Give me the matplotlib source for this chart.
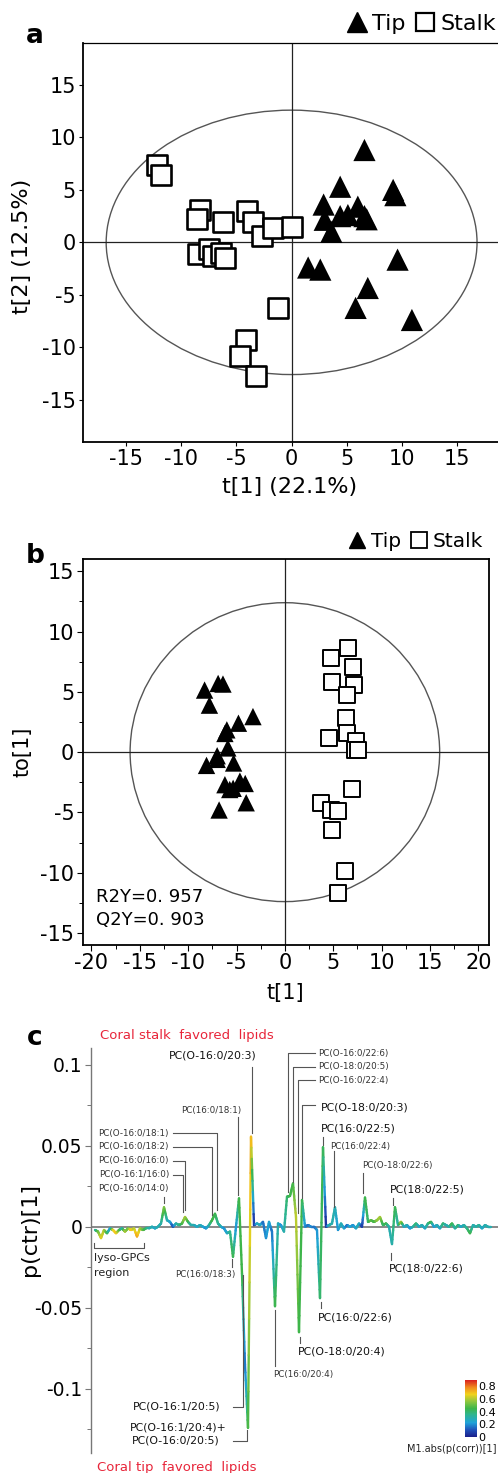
import matplotlib
matplotlib.use('Agg')
import matplotlib.pyplot as plt
import numpy as np
from matplotlib.patches import Ellipse
from matplotlib.collections import LineCollection
from matplotlib.lines import Line2D
import matplotlib.transforms as mtransforms
import matplotlib.cm as cm
import matplotlib.colors as mcolors

plt.rcParams['font.family'] = ['DejaVu Sans']
plt.rcParams['axes.unicode_minus'] = False

# ---------------- data ----------------
# Panel a: PCA scores
stalk_a_t1 = [-12.2, -11.8, -8.3, -8.6, -6.25, -4.0, -3.5, -2.7, -1.7, 0.0,
              -8.5, -7.5, -7.1, -6.4, -6.0, -1.2, -4.15, -4.7, -3.2]
stalk_a_t2 = [7.4, 6.45, 3.1, 2.2, 1.9, 2.95, 1.9, 0.6, 1.35, 1.5,
              -1.1, -0.6, -1.3, -1.0, -1.5, -6.25, -9.3, -10.8, -12.7]
tip_a_t1 = [6.6, 4.4, 9.2, 9.4, 2.9, 6.0, 3.0, 4.4, 5.1, 6.6, 6.8, 3.6,
            1.5, 2.6, 9.6, 6.9, 5.8, 10.9]
tip_a_t2 = [8.8, 5.3, 5.0, 4.5, 3.6, 3.4, 2.15, 2.5, 2.6, 2.5, 2.2, 1.0,
            -2.4, -2.6, -1.65, -4.35, -6.25, -7.4]

# Panel b: OPLS-DA scores
tip_b_t1 = [-8.3, -6.9, -6.4, -7.8, -3.3, -4.8, -6.0, -6.2, -5.9, -7.0,
            -8.1, -7.0, -5.3, -6.2, -4.65, -4.1, -5.7, -5.35, -4.0, -6.8]
tip_b_to1 = [5.15, 5.7, 5.65, 3.9, 2.95, 2.4, 1.85, 1.55, 0.35, -0.3,
             -1.1, -0.6, -0.9, -2.7, -2.4, -2.6, -3.1, -3.0, -4.2, -4.8]
stalk_b_t1 = [6.55, 4.8, 7.0, 4.9, 7.1, 6.4, 6.3, 6.4, 4.6, 7.4, 7.2, 7.6,
              6.9, 3.7, 4.8, 5.5, 4.9, 6.2, 5.5]
stalk_b_to1 = [8.65, 7.85, 7.1, 5.85, 5.55, 4.75, 2.8, 1.6, 1.2, 0.95, 0.2, 0.15,
               -3.05, -4.2, -4.8, -4.9, -6.5, -9.9, -11.7]
r2y = "0. 957"
q2y = "0. 903"

# Panel c: loading p(ctr)[1] per variable, and abs(p(corr))[1]
p_ctr = [
    -0.002, -0.003, -0.007, -0.002, -0.004, -0.001, -0.002, -0.004, -0.002, -0.001,
    -0.003, -0.001, -0.002, -0.001, -0.006, -0.001, -0.002, -0.001, -0.001, 0.000,
    -0.001, 0.000, 0.002, 0.012, 0.004, 0.003, 0.000, 0.002, 0.001, 0.002,
    0.006, 0.003, 0.001, 0.001, 0.000, 0.001, 0.000, -0.001, 0.001, 0.004,
    0.008, 0.002, 0.000, -0.001, -0.004, -0.003, -0.0185, 0.000, 0.0175, -0.029,
    -0.085, -0.124, 0.0555, 0.001, 0.002, 0.001, 0.003, -0.007, 0.003, -0.003,
    -0.049, 0.002, 0.001, -0.003, 0.0185, 0.019, 0.0267, 0.006, -0.065, 0.0165,
    0.000, 0.001, 0.000, 0.000, -0.002, -0.044, 0.049, 0.000, 0.001, 0.002,
    0.012, -0.002, 0.002, -0.001, 0.001, 0.000, 0.001, -0.001, 0.002, 0.000,
    0.018, 0.003, 0.004, 0.003, 0.004, 0.006, 0.001, 0.002, 0.000, -0.0107,
    0.012, 0.001, 0.003, 0.000, 0.001, -0.001, 0.000, 0.002, 0.000, 0.001,
    -0.001, 0.002, 0.003, 0.000, 0.001, -0.001, 0.002, 0.001, 0.000, 0.002,
    -0.001, 0.001, 0.000, 0.001, -0.001, -0.004, 0.001, 0.000, 0.001, -0.001,
    0.001, 0.000, 0.000]
p_corr = [
    0.3, 0.5, 0.65, 0.6, 0.45, 0.2, 0.65, 0.7, 0.5, 0.3,
    0.6, 0.5, 0.7, 0.6, 0.75, 0.6, 0.5, 0.4, 0.3, 0.3,
    0.25, 0.3, 0.3, 0.55, 0.3, 0.25, 0.1, 0.3, 0.35, 0.45,
    0.6, 0.45, 0.3, 0.3, 0.25, 0.3, 0.25, 0.2, 0.3, 0.45,
    0.45, 0.35, 0.3, 0.2, 0.25, 0.35, 0.45, 0.2, 0.45, 0.45,
    0.15, 0.45, 0.75, 0.03, 0.25, 0.3, 0.15, 0.2, 0.25, 0.15,
    0.45, 0.3, 0.2, 0.3, 0.4, 0.45, 0.45, 0.62, 0.45, 0.45,
    0.2, 0.15, 0.2, 0.15, 0.2, 0.4, 0.45, 0.03, 0.3, 0.3,
    0.3, 0.2, 0.3, 0.25, 0.15, 0.25, 0.2, 0.25, 0.3, 0.05,
    0.45, 0.4, 0.5, 0.45, 0.55, 0.6, 0.4, 0.45, 0.3, 0.3,
    0.45, 0.3, 0.6, 0.25, 0.3, 0.2, 0.3, 0.4, 0.25, 0.3,
    0.25, 0.35, 0.45, 0.2, 0.3, 0.25, 0.4, 0.3, 0.3, 0.45,
    0.3, 0.4, 0.25, 0.3, 0.35, 0.45, 0.3, 0.3, 0.35, 0.25,
    0.3, 0.3, 0.3]

c_yticks = [0.1, 0.05, 0, -0.05, -0.1]
c_yticklabels = ["0.1", "0.05", "0", "-0.05", "-0.1"]
cbar_ticks = [0, 0.2, 0.4, 0.6, 0.8]
cbar_ticklabels = ["0", "0.2", "0.4", "0.6", "0.8"]

# SIMCA-like colour scale
simca = mcolors.LinearSegmentedColormap.from_list('simca', [
    (0.00, '#1b1f8a'), (0.12, '#1f4fb8'), (0.25, '#1fa3d9'),
    (0.40, '#2fb58c'), (0.50, '#3db54a'), (0.62, '#8cc63f'),
    (0.75, '#f2d21b'), (0.87, '#f08a1e'), (1.00, '#d9201f')])

# ---------------- figure ----------------
W, H = 498, 1473
fig = plt.figure(figsize=(W / 100, H / 100), dpi=100)
PX = mtransforms.Affine2D().scale(1 / W, -1 / H).translate(0, 1) + fig.transFigure


def axes_px(l, t, r, b):
    return fig.add_axes([l / W, 1 - b / H, (r - l) / W, (b - t) / H])


def ftext(x, y, s, **kw):
    return fig.text(x, y, s, transform=PX, **kw)


def fline(pts, **kw):
    xs, ys = zip(*pts)
    ln = Line2D(xs, ys, transform=PX, **kw)
    fig.add_artist(ln)


TICK = 15
SPW = 1.3

# ---------------- panel a ----------------
axa = axes_px(83, 43, 498, 441.7)
axa.set_xlim(-18.9, 18.7)
axa.set_ylim(-19.0, 19.0)
axa.add_patch(Ellipse((0, 0), 2 * 16.8, 2 * 12.6, fill=False, ec='#555555', lw=1.0))
axa.axhline(0, color='#222222', lw=0.9, zorder=1)
axa.axvline(0, color='#222222', lw=0.9, zorder=1)
axa.scatter(stalk_a_t1, stalk_a_t2, marker='s', s=14.5 ** 2, facecolors='white',
            edgecolors='black', linewidths=1.9, zorder=3)
axa.scatter(tip_a_t1, tip_a_t2, marker='^', s=16 ** 2, c='black', edgecolors='none', zorder=4)
axa.set_xticks([-15, -10, -5, 0, 5, 10, 15])
axa.set_yticks([-15, -10, -5, 0, 5, 10, 15])
axa.tick_params(labelsize=TICK, direction='out', length=3, width=0.8, pad=2)
axa.spines['right'].set_visible(False)
for s in ['left', 'bottom']:
    axa.spines[s].set_linewidth(SPW)
axa.spines['top'].set_linewidth(0.9)
ftext(290, 487, "t[1] (22.1%)", fontsize=16, ha='center', va='center')
ftext(22, 246, "t[2] (12.5%)", fontsize=16, ha='center', va='center', rotation=90)
ftext(35, 43, "a", fontsize=19, fontweight='bold', ha='center', va='baseline')

h_tip = Line2D([], [], marker='^', ls='none', color='black', markersize=14)
h_stalk = Line2D([], [], marker='s', ls='none', mfc='white', mec='black', markersize=13, mew=1.6)
fig.legend([h_tip, h_stalk], ["Tip", "Stalk"], loc='center right',
           bbox_to_anchor=(496 / W, 1 - 24 / H), ncol=2, frameon=False,
           fontsize=16, handlelength=0.9, handletextpad=0.25, columnspacing=0.4,
           borderpad=0, borderaxespad=0)

# ---------------- panel b ----------------
axb = axes_px(82.7, 559.3, 489, 945)
axb.set_xlim(-20.9, 21.1)
axb.set_ylim(-16.0, 16.0)
axb.add_patch(Ellipse((0, 0), 2 * 16.0, 2 * 12.4, fill=False, ec='#555555', lw=1.0))
axb.axhline(0, color='#222222', lw=0.9, zorder=1)
axb.axvline(0, color='#222222', lw=0.9, zorder=1)
axb.scatter(stalk_b_t1, stalk_b_to1, marker='s', s=11 ** 2, facecolors='white',
            edgecolors='black', linewidths=1.4, zorder=3)
axb.scatter(tip_b_t1, tip_b_to1, marker='^', s=12.5 ** 2, c='black', edgecolors='none', zorder=4)
axb.set_xticks(np.arange(-20, 21, 5))
axb.set_yticks(np.arange(-15, 16, 5))
axb.set_xticks(np.arange(-17.5, 21, 5), minor=True)
axb.set_yticks(np.arange(-12.5, 16, 5), minor=True)
axb.tick_params(labelsize=TICK, direction='out', length=4, width=0.8, pad=2)
axb.tick_params(which='minor', direction='out', length=3, width=0.7)
for s in axb.spines.values():
    s.set_linewidth(SPW)
axb.text(-19.5, -12.0, "R2Y=" + r2y, fontsize=13, ha='left', va='center')
axb.text(-19.5, -13.9, "Q2Y=" + q2y, fontsize=13, ha='left', va='center')
ftext(285, 993, "t[1]", fontsize=15, ha='center', va='center')
ftext(22, 752, "to[1]", fontsize=15, ha='center', va='center', rotation=90)
ftext(35, 563, "b", fontsize=19, fontweight='bold', ha='center', va='baseline')

h_tip2 = Line2D([], [], marker='^', ls='none', color='black', markersize=12)
h_stalk2 = Line2D([], [], marker='s', ls='none', mfc='white', mec='black', markersize=11, mew=1.3)
fig.legend([h_tip2, h_stalk2], ["Tip", "Stalk"], loc='center right',
           bbox_to_anchor=(483 / W, 1 - 542 / H), ncol=2, frameon=False,
           fontsize=14.5, handlelength=0.9, handletextpad=0.25, columnspacing=0.4,
           borderpad=0, borderaxespad=0)

# ---------------- panel c ----------------
axc = axes_px(90.7, 1048, 498, 1453)
idx = np.arange(len(p_ctr))
axc.set_xlim((90.7 - 95) / 3, (498 - 95) / 3)
axc.set_ylim(-0.1395, 0.1102)
axc.axhline(0, color='#808080', lw=1.3, zorder=1)

# colour gradient along the loading line (each segment split into sub-pieces)
pts = np.column_stack([idx, np.array(p_ctr)])
corr = np.array(p_corr)
NSUB = 8
segs, cols = [], []
for i in range(len(pts) - 1):
    for k in range(NSUB):
        f0, f1 = k / NSUB, (k + 1) / NSUB
        segs.append([pts[i] + (pts[i + 1] - pts[i]) * f0, pts[i] + (pts[i + 1] - pts[i]) * f1])
        fm = (f0 + f1) / 2
        cols.append(corr[i] + (corr[i + 1] - corr[i]) * fm)
norm = mcolors.Normalize(0, 0.9)
lc = LineCollection(segs, cmap=simca, norm=norm, linewidths=1.7, capstyle='round', zorder=3)
lc.set_array(np.array(cols))
axc.add_collection(lc)

for s in ['top', 'right', 'bottom']:
    axc.spines[s].set_visible(False)
axc.spines['left'].set_color('#777777')
axc.spines['left'].set_linewidth(1.0)
axc.set_xticks([])
axc.set_yticks(c_yticks)
axc.set_yticklabels(c_yticklabels)
axc.set_yticks([0.075, 0.025, -0.025, -0.075, -0.125], minor=True)
axc.tick_params(axis='y', labelsize=13.5, direction='out', length=4, width=0.8,
                color='#777777', pad=2)
axc.tick_params(axis='y', which='minor', direction='out', length=3, width=0.7, color='#777777')
ftext(30, 1230, "p(ctr)[1]", fontsize=16, ha='center', va='center', rotation=90)
ftext(35, 1045, "c", fontsize=19, fontweight='bold', ha='center', va='baseline')

red = '#e8253a'
ftext(186.7, 1036, "Coral stalk  favored  lipids", fontsize=9.5, color=red, ha='center', va='center')
ftext(176.7, 1467, "Coral tip  favored  lipids", fontsize=9.5, color=red, ha='center', va='center')

BIG, SMALL = 7.8, 6.3
labels = [
    ("PC(O-16:0/20:3)", 213, 1055, 'center', BIG),
    ("PC(16:0/18:1)", 211, 1110.7, 'center', SMALL),
    ("PC(O-16:0/18:1)", 169, 1133.3, 'right', SMALL),
    ("PC(O-16:0/18:2)", 169, 1146.7, 'right', SMALL),
    ("PC(O-16:0/16:0)", 169, 1161, 'right', SMALL),
    ("PC(O-16:1/16:0)", 169, 1175, 'right', SMALL),
    ("PC(O-16:0/14:0)", 169, 1188.3, 'right', SMALL),
    ("PC(O-16:0/22:6)", 318.3, 1053.3, 'left', SMALL),
    ("PC(O-18:0/20:5)", 318.3, 1066.7, 'left', SMALL),
    ("PC(O-16:0/22:4)", 318.3, 1080, 'left', SMALL),
    ("PC(O-18:0/20:3)", 320.7, 1107.3, 'left', BIG),
    ("PC(16:0/22:5)", 320.7, 1128.3, 'left', BIG),
    ("PC(16:0/22:4)", 330, 1146.7, 'left', SMALL),
    ("PC(O-18:0/22:6)", 397, 1165.7, 'center', SMALL),
    ("PC(18:0/22:5)", 427.3, 1190, 'center', BIG),
    ("PC(18:0/22:6)", 389.3, 1268.3, 'left', BIG),
    ("PC(16:0/18:3)", 205.3, 1275, 'center', SMALL),
    ("PC(16:0/22:6)", 318.3, 1317.3, 'left', BIG),
    ("PC(O-18:0/20:4)", 297.7, 1351.7, 'left', BIG),
    ("PC(16:0/20:4)", 303, 1375, 'center', SMALL),
    ("PC(O-16:1/20:5)", 220, 1406.7, 'right', BIG),
    ("PC(O-16:1/20:4)+", 226.7, 1427.3, 'right', BIG),
    ("PC(O-16:0/20:5)", 220, 1440.7, 'right', BIG),
]
for s, x, y, ha, fs in labels:
    ftext(x, y, s, fontsize=fs, ha=ha, va='center',
          color='#111111' if fs == BIG else '#333333')

leaders = [
    [(251.7, 1066.7), (251.7, 1133)],
    [(237.7, 1116.7), (237.7, 1195)],
    [(173.3, 1133.3), (216.7, 1133.3), (216.7, 1210)],
    [(173.3, 1146.7), (211.7, 1146.7), (211.7, 1215)],
    [(173.3, 1161), (185, 1161), (185, 1210)],
    [(173.3, 1175), (182.7, 1175), (182.7, 1211.7)],
    [(164.3, 1196.7), (164.3, 1203.3)],
    [(315, 1053.3), (288.3, 1053.3), (288.3, 1191.7)],
    [(315, 1066.7), (293.3, 1066.7), (293.3, 1181.7)],
    [(315, 1080), (297.7, 1080), (297.7, 1213.3)],
    [(315, 1105), (302.3, 1105), (302.3, 1198.3)],
    [(323.3, 1137.3), (323.3, 1145)],
    [(334.3, 1150.7), (334.3, 1206.7)],
    [(363.3, 1173.3), (363.3, 1193.3)],
    [(393.3, 1198.3), (393.3, 1205)],
    [(391, 1253.3), (391, 1260)],
    [(232.3, 1259.3), (232.3, 1266.7)],
    [(320.7, 1301.7), (320.7, 1308.3)],
    [(300, 1336.7), (300, 1343.3)],
    [(275, 1310), (275, 1366)],
    [(232.7, 1406.7), (243.3, 1406.7), (243.3, 1275)],
    [(232.7, 1440.7), (247.3, 1440.7), (247.3, 1430)],
    [(94.3, 1242.7), (94.3, 1248.3), (144.3, 1248.3), (144.3, 1242.7)],
]
for pts_ in leaders:
    fline(pts_, color='#555555', lw=0.8)

ftext(94, 1258.3, "lyso-GPCs", fontsize=8, ha='left', va='center', color='#222222')
ftext(94, 1273.3, "region", fontsize=8, ha='left', va='center', color='#222222')

# colorbar
cax = axes_px(465, 1380, 477, 1437)
sm = cm.ScalarMappable(norm=norm, cmap=simca)
cb = fig.colorbar(sm, cax=cax, ticks=cbar_ticks)
cb.set_ticklabels(cbar_ticklabels)
cb.outline.set_visible(False)
cax.tick_params(length=0, labelsize=8, pad=1)
ftext(452, 1449, "M1.abs(p(corr))[1]", fontsize=7, ha='center', va='center', color='#222222')

fig.savefig('out.png', dpi=100)
